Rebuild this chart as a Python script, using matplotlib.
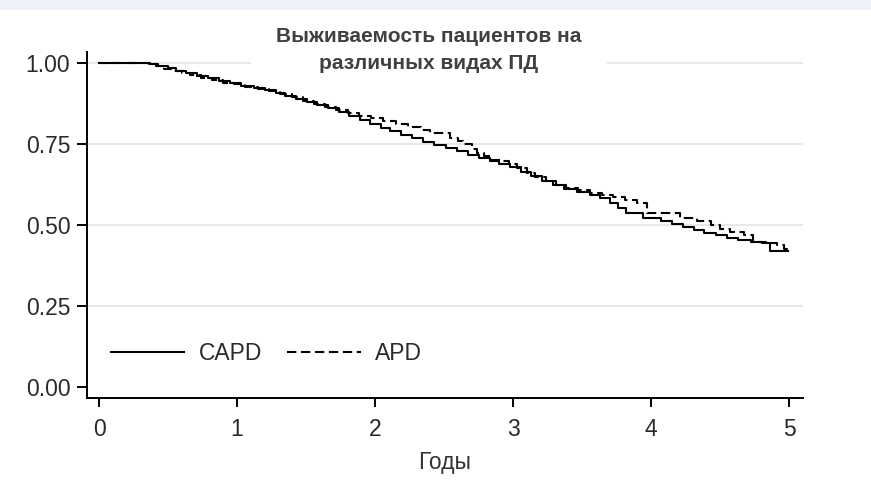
import matplotlib.pyplot as plt
from matplotlib.patches import Rectangle

# время (годы) и доля выживших
capd_t = [0.00, 0.37, 0.43, 0.50, 0.56, 0.63, 0.71, 0.79, 0.87, 0.95, 1.03, 1.12,
          1.20, 1.28, 1.35, 1.43, 1.51, 1.58, 1.66, 1.74, 1.81, 1.89, 1.96, 2.04,
          2.11, 2.19, 2.27, 2.35, 2.43, 2.51, 2.59, 2.67, 2.75, 2.83, 2.90, 2.98,
          3.06, 3.13, 3.21, 3.29, 3.37, 3.46, 3.56, 3.63, 3.70, 3.76, 3.82, 3.94,
          4.07, 4.15, 4.23, 4.31, 4.38, 4.47, 4.55, 4.63, 4.72, 4.80, 4.86, 4.99]
capd_s = [1.000, 0.996, 0.990, 0.984, 0.977, 0.969, 0.961, 0.953, 0.945, 0.937, 0.930, 0.924,
          0.916, 0.907, 0.899, 0.890, 0.880, 0.870, 0.860, 0.849, 0.836, 0.823, 0.811, 0.799,
          0.789, 0.779, 0.768, 0.757, 0.747, 0.737, 0.727, 0.717, 0.707, 0.698, 0.689, 0.679,
          0.664, 0.650, 0.637, 0.624, 0.610, 0.602, 0.594, 0.583, 0.568, 0.553, 0.537, 0.522,
          0.512, 0.503, 0.494, 0.484, 0.475, 0.468, 0.460, 0.455, 0.448, 0.443, 0.420, 0.420]

apd_t = [0.00, 0.36, 0.41, 0.47, 0.53, 0.60, 0.66, 0.74, 0.82, 0.90, 0.98, 1.06,
         1.15, 1.23, 1.31, 1.40, 1.48, 1.56, 1.64, 1.72, 1.80, 1.88, 1.97, 2.06,
         2.15, 2.24, 2.33, 2.40, 2.54, 2.60, 2.64, 2.70, 2.74, 2.79, 2.83, 2.92,
         2.97, 3.03, 3.10, 3.16, 3.24, 3.31, 3.38, 3.47, 3.56, 3.64, 3.72, 3.81,
         3.90, 3.97, 4.21, 4.33, 4.43, 4.50, 4.57, 4.67, 4.74, 4.83, 4.91, 4.96, 4.99]
apd_s = [1.000, 0.997, 0.991, 0.983, 0.975, 0.970, 0.962, 0.955, 0.947, 0.940, 0.934, 0.927,
         0.921, 0.913, 0.904, 0.895, 0.884, 0.874, 0.865, 0.856, 0.847, 0.838, 0.829, 0.820,
         0.812, 0.803, 0.793, 0.784, 0.770, 0.760, 0.750, 0.736, 0.722, 0.712, 0.702, 0.697,
         0.688, 0.675, 0.660, 0.648, 0.636, 0.625, 0.614, 0.607, 0.600, 0.593, 0.586, 0.577,
         0.567, 0.537, 0.522, 0.512, 0.500, 0.489, 0.478, 0.469, 0.448, 0.443, 0.438, 0.425, 0.420]

x_ticks = [0, 1, 2, 3, 4, 5]
y_ticks = [0.00, 0.25, 0.50, 0.75, 1.00]
y_labels = ['0.00', '0.25', '0.50', '0.75', '1.00']

plt.rcParams['font.family'] = ['Liberation Sans', 'DejaVu Sans']

fig = plt.figure(figsize=(8.71, 4.82), dpi=100)
fig.patch.set_facecolor('white')
# бледная полоска фона слайда сверху
fig.patches.append(Rectangle((0, 0.98), 1, 0.02, transform=fig.transFigure,
                             facecolor='#edf2f9', edgecolor='none', zorder=0))

ax = fig.add_axes([0.0999, 0.1743, 0.8221, 0.7177])

ax.step(capd_t, capd_s, where='post', color='black', lw=1.5, zorder=3, label='CAPD')
ax.step(apd_t, apd_s, where='post', color='black', lw=1.5, dashes=(4.5, 2.2),
        zorder=3, label='APD')

ax.set_xlim(-0.087, 5.10)
ax.set_ylim(-0.034, 1.034)
ax.set_xticks(x_ticks)
ax.set_yticks(y_ticks)
ax.set_yticklabels(y_labels)

for s in ['top', 'right']:
    ax.spines[s].set_visible(False)
for s in ['left', 'bottom']:
    ax.spines[s].set_linewidth(1.4)

ax.tick_params(axis='y', length=7, width=1.4, pad=5, labelsize=16.5, labelcolor='#2a2a2a')
ax.tick_params(axis='x', length=6.5, width=1.4, pad=8, labelsize=16.5, labelcolor='#2a2a2a')

ax.yaxis.grid(True, color='#e6e6e6', lw=1.3)
ax.set_axisbelow(True)
ax.yaxis.get_gridlines()[0].set_visible(False)

ax.set_xlabel('Годы', fontsize=16.5, color='#333333', labelpad=7)

ax.text(0.4925, 0.897, 'Выживаемость пациентов на\nразличных видах ПД',
        transform=fig.transFigure, ha='center', va='center', fontsize=15,
        fontweight='bold', color='#404040', linespacing=1.55, zorder=2.5,
        bbox=dict(boxstyle='square,pad=1.2', facecolor='white', edgecolor='none'))

ax.legend(loc='center left', bbox_to_anchor=(0.0335, 0.128), ncol=2, frameon=False,
          fontsize=16.5, handlelength=3.2, handletextpad=0.63, columnspacing=1.1,
          borderpad=0, borderaxespad=0, labelcolor='#2a2a2a')

fig.savefig('out.png', dpi=100, facecolor='white')
